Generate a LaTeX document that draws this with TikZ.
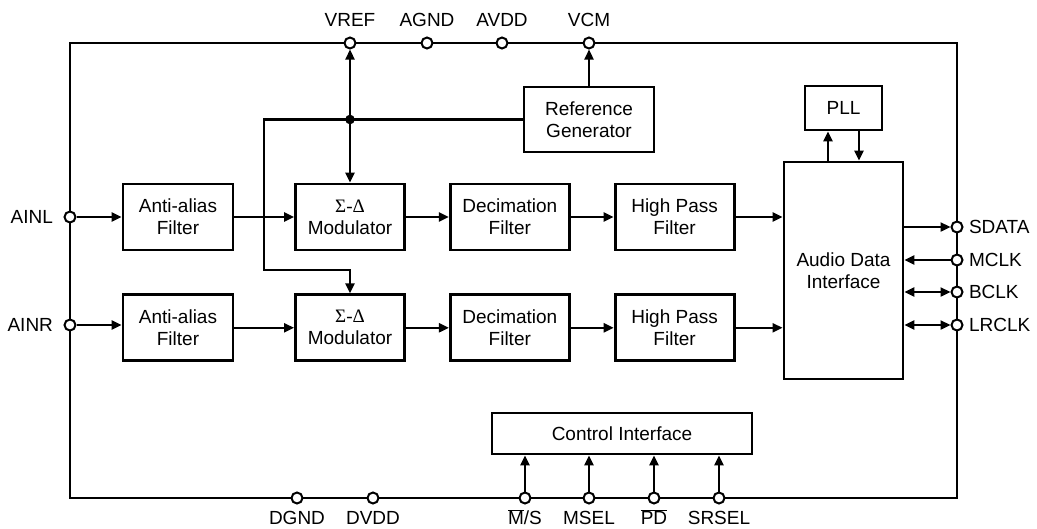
\documentclass[tikz,border=0pt]{standalone}
\usepackage{fontspec}
\setmainfont{Liberation Sans}
\newfontfamily\greekfont{Liberation Serif}
\usepackage{tikz}
\usetikzlibrary{arrows.meta, positioning, calc}

\begin{document}
\begin{tikzpicture}[
        x=1pt, y=-1pt,
        font=\fontsize{19}{22}\selectfont,
        block/.style={rectangle, draw, line width=2.8pt, minimum width=110pt, minimum height=66pt, align=center, inner sep=2pt},
        pin/.style={circle, draw, fill=white, line width=2pt, minimum size=11pt, inner sep=0pt},
        botlabel/.style={label distance=3pt, text height=13.5pt, text depth=0pt},
        wire/.style={line width=2.4pt},
        arrow/.style={line width=2.3pt, -{Triangle[length=10pt,width=9pt]}},
        darrow/.style={line width=2.3pt, {Triangle[length=10pt,width=9pt]}-{Triangle[length=10pt,width=9pt]}}
    ]
        \useasboundingbox (0,0) rectangle (1037,528);

        % Chip outline
        \draw[wire] (70,43) rectangle (957,498);

        % Analog inputs
        \node[block] (aa1) at (178,217) {Anti-alias\\Filter};
        \node[block] (aa2) [below=42pt of aa1] {Anti-alias\\Filter};

        % Modulators
        \node[block, minimum width=109pt] (mod1) at (350,217) {{\greekfont Σ-Δ}\\Modulator};
        \node[block, minimum width=109pt] (mod2) [below=42pt of mod1] {{\greekfont Σ-Δ}\\Modulator};

        % Decimation
        \node[block, minimum width=119pt] (dec1) [right=43pt of mod1] {Decimation\\Filter};
        \node[block, minimum width=119pt] (dec2) [right=43pt of mod2] {Decimation\\Filter};

        % High pass
        \node[block, minimum width=119pt] (hp1) [right=43pt of dec1] {High Pass\\Filter};
        \node[block, minimum width=119pt] (hp2) [right=43pt of dec2] {High Pass\\Filter};

        % Audio data interface and PLL
        \node[block, minimum width=119pt, minimum height=217pt] (adi) at (843.5,270.5) {Audio Data\\Interface};
        \node[block, minimum width=77pt, minimum height=44pt] (pll) at (843.5,108) {PLL};

        % Reference and control
        \node[block, minimum width=130pt, minimum height=65pt] (refgen) at (589,119.5) {Reference\\Generator};
        \node[block, minimum width=260pt, minimum height=41pt] (ctrl) at (622,433.5) {Control Interface};

        % Pins
        \node[pin, label={[label distance=6pt]above:VREF}] (vref) at (350,43) {};
        \node[pin, label={[label distance=6pt]above:AGND}] (agnd) at (427,43) {};
        \node[pin, label={[label distance=6pt]above:AVDD}] (avdd) at (502,43) {};
        \node[pin, label={[label distance=6pt]above:VCM}] (vcm) at (589,43) {};
        \node[pin, label={[label distance=7pt]left:AINL}] (ainl) at (70,217) {};
        \node[pin, label={[label distance=7pt]left:AINR}] (ainr) at (70,325) {};
        \node[pin, label={[label distance=2pt]right:SDATA}] (sdata) at (957,227) {};
        \node[pin, label={[label distance=2pt]right:MCLK}] (mclk) at (957,260) {};
        \node[pin, label={[label distance=2pt]right:BCLK}] (bclk) at (957,292) {};
        \node[pin, label={[label distance=2pt]right:LRCLK}] (lrclk) at (957,325) {};
        \node[pin, label={[botlabel]below:DGND}] (dgnd) at (297,498) {};
        \node[pin, label={[botlabel]below:DVDD}] (dvdd) at (373,498) {};
        \node[pin, label={[botlabel]below:$\overline{\hbox{M}}$/S}] (ms) at (525,498) {};
        \node[pin, label={[botlabel]below:MSEL}] (msel) at (589,498) {};
        \node[pin, label={[botlabel]below:$\overline{\hbox{PD}}$}] (pd) at (654,498) {};
        \node[pin, label={[botlabel]below:SRSEL}] (srsel) at (719,498) {};

        % Reference routing
        \coordinate (jn) at (vref |- refgen);
        \coordinate (bendA) at (264,119.5);
        \coordinate (bendB) at (264,270);
        \fill (jn) circle (4.8pt);
        \draw[arrow] (jn) -- (vref);
        \draw[arrow] (jn) -- (mod1.north);
        \draw[arrow] (refgen.west) -- (bendA) -- (bendB) -| (mod2.north);
        \draw[arrow] (refgen.north) -- (vcm);

        % Signal chain
        \draw[arrow] (ainl) -- (ainl -| aa1.west);
        \draw[arrow] (ainr) -- (ainr -| aa2.west);
        \draw[arrow] (aa1) -- (mod1);
        \draw[arrow] (aa2) -- (mod2);
        \draw[arrow] (mod1) -- (dec1);
        \draw[arrow] (mod2) -- (dec2);
        \draw[arrow] (dec1) -- (hp1);
        \draw[arrow] (dec2) -- (hp2);
        \draw[arrow] (hp1) -- (hp1 -| adi.west);
        \draw[arrow] (hp2) -- (hp2 -| adi.west);

        % PLL
        \draw[arrow] ([xshift=-15.5pt]adi.north) -- ([xshift=-15.5pt]pll.south);
        \draw[arrow] ([xshift=15.5pt]pll.south) -- ([xshift=15.5pt]adi.north);

        % Serial port
        \draw[arrow] (sdata -| adi.east) -- (sdata);
        \draw[arrow] (mclk) -- (mclk -| adi.east);
        \draw[darrow] (bclk -| adi.east) -- (bclk);
        \draw[darrow] (lrclk -| adi.east) -- (lrclk);

        % Control pins
        \draw[arrow] (ms) -- (ms |- ctrl.south);
        \draw[arrow] (msel) -- (msel |- ctrl.south);
        \draw[arrow] (pd) -- (pd |- ctrl.south);
        \draw[arrow] (srsel) -- (srsel |- ctrl.south);
    \end{tikzpicture}
\end{document}
